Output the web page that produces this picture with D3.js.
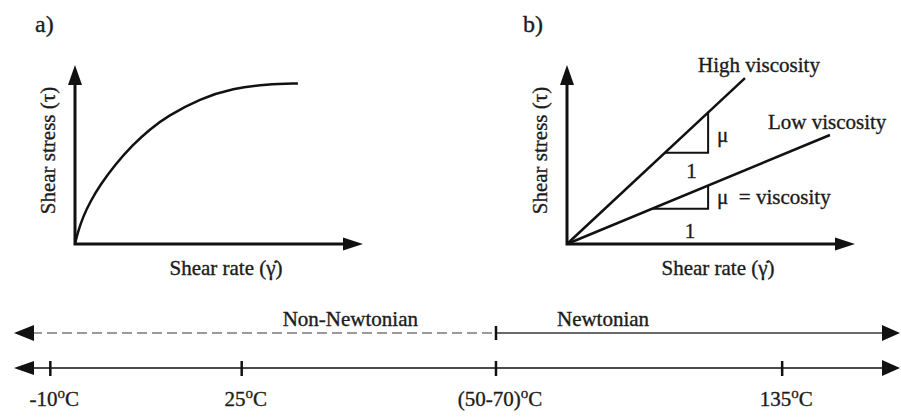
<!DOCTYPE html>
<html>
<head>
  <meta charset='utf-8'>
  <title>Shear stress vs shear rate</title>
  <script src="https://cdn.jsdelivr.net/npm/d3@7"></script>
  <style>
    body { margin: 0; background: #fff; }
    text { font-family: "Liberation Serif", "Times New Roman", serif; fill: #1c1c1c; stroke: #1c1c1c; stroke-width: 0.35; }
  </style>
</head>
<body>
  <svg width="901" height="418" id="chart"></svg>
  <script>
    // panel a: non-newtonian curve (schematic units 0..10)
    const curveX = [0, 0.10, 0.28, 0.52, 0.87, 1.39, 2.01, 2.60, 3.19, 4.34, 5.49, 6.67, 7.74];
    const curveY = [0, 0.67, 1.52, 2.34, 3.29, 4.43, 5.55, 6.41, 7.12, 8.12, 8.70, 8.93, 8.97];

    // panel b: two straight lines from the origin
    const lineNames = ["High viscosity", "Low viscosity"];
    const lineEndX = [6.18, 9.13];
    const lineEndY = [9.27, 6.09];
    const triFrom = [3.40, 2.95];   // where the slope triangle starts on the line
    const triTo = [4.90, 4.90];

    // temperature strip (schematic position 0..100 along the axis)
    const tempLabels = ["-10", "25", "(50-70)", "135"];
    const tempPos = [4.1, 25.7, 54.4, 86.7];
    const regionNames = ["Non-Newtonian", "Newtonian"];
    const regionFrom = [0, 54.4];
    const regionTo = [54.4, 100];

    const svg = d3.select('#chart');
    const ink = '#111';
    const fs = 21;

    function arrowHead(g, x, y, dir, len, half) {
      // dir: 'up', 'right', 'left'
      let pts;
      if (dir == 'up') pts = [[x, y], [x - half, y + len], [x + half, y + len]];
      else if (dir == 'right') pts = [[x, y], [x - len, y - half], [x - len, y + half]];
      else pts = [[x, y], [x + len, y - half], [x + len, y + half]];
      g.append('path')
        .attr('d', d3.line()(pts) + 'Z')
        .attr('fill', ink);
    }

    function panel(left, top, letter, letterX) {
      const x = d3.scaleLinear().domain([0, 10]).range([left, left + 288]);
      const y = d3.scaleLinear().domain([0, 10]).range([244, top]);
      const g = svg.append('g');

      g.append('path')
        .attr('d', d3.line()([[x(0), y(10) + 12], [x(0), y(0)], [x(10) - 12, y(0)]]))
        .attr('fill', 'none').attr('stroke', ink).attr('stroke-width', 3);
      arrowHead(g, x(0), y(10), 'up', 20, 7);
      arrowHead(g, x(10), y(0), 'right', 20, 6.5);

      g.append('text')
        .attr('transform', `translate(${x(0) - 20},${(y(0) + y(10)) / 2 - 4}) rotate(-90)`)
        .attr('text-anchor', 'middle')
        .attr('font-size', fs)
        .text('Shear stress (τ)');

      g.append('text')
        .attr('x', (x(0) + x(10)) / 2 + 7)
        .attr('y', 275)
        .attr('text-anchor', 'middle')
        .attr('font-size', fs)
        .text('Shear rate (γ̇)');

      g.append('text')
        .attr('x', letterX)
        .attr('y', 32)
        .attr('font-size', 24)
        .text(letter + ')');

      return { g, x, y };
    }

    // ---- panel a
    const pa = panel(75, 65, 'a', 35);
    pa.g.append('path')
      .datum(curveX.map((v, i) => [v, curveY[i]]))
      .attr('d', d3.line().x(d => pa.x(d[0])).y(d => pa.y(d[1])).curve(d3.curveBasis))
      .attr('fill', 'none').attr('stroke', ink).attr('stroke-width', 2.5);

    // ---- panel b
    const pb = panel(567, 65, 'b', 523);
    lineNames.forEach((name, i) => {
      const slope = lineEndY[i] / lineEndX[i];
      pb.g.append('line')
        .attr('x1', pb.x(0)).attr('y1', pb.y(0))
        .attr('x2', pb.x(lineEndX[i])).attr('y2', pb.y(lineEndY[i]))
        .attr('stroke', ink).attr('stroke-width', 2.5);

      const a = triFrom[i], b = triTo[i];
      pb.g.append('path')
        .attr('d', d3.line()([[pb.x(a), pb.y(a * slope)], [pb.x(b), pb.y(a * slope)], [pb.x(b), pb.y(b * slope)]]))
        .attr('fill', 'none').attr('stroke', ink).attr('stroke-width', 2);

      // "1" under the run, "mu" beside the rise
      pb.g.append('text')
        .attr('x', pb.x((a + b) / 2) + 5 * (1 - i) + 10 * i)
        .attr('y', pb.y(a * slope) + 25 + 4 * i)
        .attr('text-anchor', 'middle')
        .attr('font-size', fs)
        .text('1');
      pb.g.append('text')
        .attr('x', pb.x(b) + 9)
        .attr('y', (pb.y(a * slope) + pb.y(b * slope)) / 2 + 9 - 2 * i)
        .attr('font-size', fs)
        .attr('xml:space', 'preserve')
        .text(i == 0 ? 'μ' : 'μ  = viscosity');

      pb.g.append('text')
        .attr('x', pb.x(lineEndX[i]) + (i == 0 ? -47 : -62))
        .attr('y', pb.y(lineEndY[i]) - 6)
        .attr('font-size', fs)
        .text(name);
    });

    // ---- temperature strip
    const t = d3.scaleLinear().domain([0, 100]).range([14, 900]);
    const yRegion = 333, yTemp = 368;

    regionNames.forEach((name, i) => {
      const dashed = i == 0;
      svg.append('line')
        .attr('x1', t(regionFrom[i]) + (dashed ? 18 : 0)).attr('x2', t(regionTo[i]) - (dashed ? 0 : 16))
        .attr('y1', yRegion).attr('y2', yRegion)
        .attr('stroke', dashed ? '#9a9a9a' : '#6a6a6a')
        .attr('stroke-width', dashed ? 2.2 : 1.8)
        .attr('stroke-dasharray', dashed ? '10,5' : null);
      svg.append('text')
        .attr('x', dashed ? t(regionTo[i]) - 78 : t(regionFrom[i]) + 61)
        .attr('y', 326)
        .attr('text-anchor', dashed ? 'end' : 'start')
        .attr('font-size', fs)
        .text(name);
    });
    arrowHead(svg, t(0), yRegion, 'left', 20, 8);
    arrowHead(svg, t(100), yRegion, 'right', 18, 8);
    svg.append('line')
      .attr('x1', t(regionTo[0])).attr('x2', t(regionTo[0]))
      .attr('y1', yRegion - 7).attr('y2', yRegion + 7)
      .attr('stroke', ink).attr('stroke-width', 2.5);

    svg.append('line')
      .attr('x1', t(0) + 16).attr('x2', t(100) - 16)
      .attr('y1', yTemp).attr('y2', yTemp)
      .attr('stroke', '#4a4a4a').attr('stroke-width', 1.8);
    arrowHead(svg, t(0), yTemp, 'left', 20, 7);
    arrowHead(svg, t(100), yTemp, 'right', 18, 8);

    const tick = svg.selectAll('.temp')
      .data(tempLabels)
      .join('g')
      .attr('class', 'temp')
      .attr('transform', (d, i) => `translate(${t(tempPos[i])},${yTemp})`);
    tick.append('line')
      .attr('y1', -7).attr('y2', 8)
      .attr('stroke', ink).attr('stroke-width', 2.5);
    const lab = tick.append('text')
      .attr('y', 38)
      .attr('x', 4)
      .attr('text-anchor', 'middle')
      .attr('font-size', fs);
    lab.append('tspan').text(d => d);
    lab.append('tspan').attr('dy', -8).attr('font-size', 15).text('o');
    lab.append('tspan').attr('dy', 8).text('C');
  </script>
</body>
</html>
